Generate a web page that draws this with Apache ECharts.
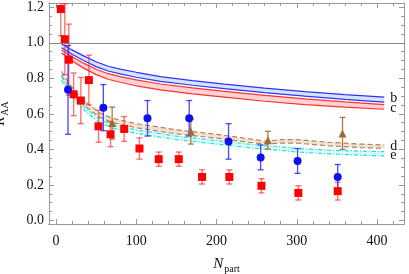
<!DOCTYPE html>
<html>
<head>
<meta charset="utf-8">
<script src="https://cdn.jsdelivr.net/npm/echarts@6/dist/echarts.min.js"></script>
<style>html,body{margin:0;padding:0;background:#fff}#c{width:409px;height:274px}</style>
</head>
<body>
<div id="c"></div>
<script>
// ---- data ----
const xMajorTicks = [0, 100, 200, 300, 400];
const xMinorTicks = [20, 40, 60, 80, 120, 140, 160, 180, 220, 240, 260, 280, 320, 340, 360, 380, 420];
const yMajorTicks = [0, 0.2, 0.4, 0.6, 0.8, 1.0, 1.2];
const yMinorTicks = [0.05, 0.1, 0.15, 0.25, 0.3, 0.35, 0.45, 0.5, 0.55, 0.65, 0.7, 0.75, 0.85, 0.9, 0.95, 1.05, 1.1, 1.15];

// red squares
const redN   = [6, 11, 16, 22, 31, 41, 53, 68, 85, 104, 128, 153, 182, 216, 256, 302, 351];
const redR   = [1.19, 1.02, 0.905, 0.71, 0.675, 0.79, 0.53, 0.485, 0.515, 0.405, 0.345, 0.345, 0.245, 0.245, 0.195, 0.155, 0.165];
const redErr = [0.15, 0.2, 0.2, 0.12, 0.13, 0.14, 0.09, 0.07, 0.07, 0.06, 0.04, 0.04, 0.04, 0.04, 0.04, 0.04, 0.05];
// blue circles
const blueN   = [15, 59, 114, 166, 215, 255, 301, 351];
const blueR   = [0.735, 0.635, 0.575, 0.575, 0.445, 0.355, 0.335, 0.245];
const blueErr = [0.25, 0.13, 0.10, 0.10, 0.10, 0.07, 0.07, 0.07];
// brown triangles
const brownN   = [70, 168, 264, 357];
const brownR   = [0.548, 0.50, 0.452, 0.49];
const brownErr = [0.09, 0.07, 0.05, 0.09];

// curves b, c
const curveBCN = [7, 20, 35, 50, 65, 80, 100, 130, 170, 210, 260, 310, 360, 409];
const bUpper = [0.993, 0.960, 0.925, 0.893, 0.868, 0.852, 0.834, 0.810, 0.787, 0.767, 0.745, 0.725, 0.708, 0.694];
const bLower = [0.972, 0.935, 0.899, 0.866, 0.841, 0.825, 0.806, 0.783, 0.761, 0.742, 0.720, 0.700, 0.682, 0.666];
const cUpper = [0.959, 0.921, 0.884, 0.851, 0.826, 0.810, 0.791, 0.768, 0.746, 0.727, 0.704, 0.684, 0.667, 0.652];
const cLower = [0.943, 0.898, 0.856, 0.821, 0.795, 0.778, 0.758, 0.735, 0.713, 0.694, 0.671, 0.652, 0.638, 0.626];
// curves d, e
const curveDEN = [7, 15, 25, 40, 55, 70, 100, 150, 200, 240, 262, 280, 300, 340, 380, 409];
const dUpper = [0.84, 0.78, 0.72, 0.655, 0.605, 0.575, 0.545, 0.51, 0.485, 0.46, 0.445, 0.455, 0.455, 0.44, 0.43, 0.425];
const dLower = [0.815, 0.755, 0.695, 0.63, 0.58, 0.552, 0.522, 0.487, 0.463, 0.44, 0.43, 0.435, 0.435, 0.42, 0.41, 0.406];
const eUpper = [0.81, 0.745, 0.685, 0.62, 0.57, 0.54, 0.51, 0.475, 0.45, 0.43, 0.42, 0.415, 0.405, 0.395, 0.39, 0.387];
const eLower = [0.79, 0.725, 0.665, 0.6, 0.55, 0.52, 0.49, 0.455, 0.43, 0.41, 0.4, 0.395, 0.385, 0.375, 0.368, 0.363];

// ---- chart ----
const FONT = '"Liberation Serif", "DejaVu Serif", serif';
const GRAY = '#999';
const chart = echarts.init(document.getElementById('c'), null, {renderer: 'canvas'});

function xAx(pos, ticks, len, labels) {
  return {
    type: 'value', position: pos, min: -8.7, max: 433.6,
    axisLine: {show: true, onZero: false, lineStyle: {color: GRAY, width: 1}},
    axisTick: {show: true, inside: true, length: len, customValues: ticks, lineStyle: {color: GRAY}},
    axisLabel: labels ? {show: true, customValues: ticks, margin: 10, color: '#111', fontFamily: FONT, fontSize: 14} : {show: false},
    splitLine: {show: false}
  };
}
function yAx(pos, ticks, len, labels) {
  return {
    type: 'value', position: pos, min: -0.02, max: 1.224,
    axisLine: {show: true, onZero: false, lineStyle: {color: GRAY, width: 1}},
    axisTick: {show: true, inside: true, length: len, customValues: ticks, lineStyle: {color: GRAY}},
    axisLabel: labels ? {show: true, customValues: ticks, margin: 5, color: '#111', fontFamily: FONT, fontSize: 14,
      formatter: v => v.toFixed(1)} : {show: false},
    splitLine: {show: false}
  };
}

const xAxes = [xAx('bottom', xMajorTicks, 5, true), xAx('bottom', xMinorTicks, 3, false),
               xAx('top', xMajorTicks, 5, false), xAx('top', xMinorTicks, 3, false)];
const yAxes = [yAx('left', yMajorTicks, 5, true), yAx('left', yMinorTicks, 3, false),
               yAx('right', yMajorTicks, 5, false), yAx('right', yMinorTicks, 3, false)];

const nameRich = {
  i: {fontStyle: 'italic', fontSize: 15, fontFamily: FONT, color: '#111', lineHeight: 20, verticalAlign: 'middle'},
  s: {fontSize: 10, fontFamily: FONT, color: '#111', lineHeight: 20, verticalAlign: 'bottom', padding: [0, 0, 0, 1]}
};
xAxes[0].name = '{i|N}{s|part}';
xAxes[0].nameLocation = 'middle';
xAxes[0].nameGap = 30;
xAxes[0].nameTextStyle = {color: '#111', fontFamily: FONT, rich: nameRich};
yAxes[0].name = '{i|R}{s|AA}';
yAxes[0].nameLocation = 'middle';
yAxes[0].nameRotate = 90;
yAxes[0].nameGap = 39;
yAxes[0].nameTextStyle = {color: '#111', fontFamily: FONT, rich: nameRich};

function band(N, lo, hi, color) {
  return {
    type: 'custom', xAxisIndex: 0, yAxisIndex: 0, silent: true, clip: true, z: 1,
    data: N.map((n, i) => [n, lo[i], hi[i]]),
    renderItem: function (params, api) {
      if (params.dataIndex !== 0) return null;
      const pts = [];
      for (let i = 0; i < N.length; i++) pts.push(api.coord([N[i], hi[i]]));
      for (let i = N.length - 1; i >= 0; i--) pts.push(api.coord([N[i], lo[i]]));
      return {type: 'polygon', shape: {points: pts}, style: {fill: color, stroke: null}};
    }
  };
}
function curve(N, vals, color, type, label, labelOffset) {
  const s = {
    type: 'line', xAxisIndex: 0, yAxisIndex: 0, silent: true, z: 2,
    data: N.map((n, i) => [n, vals[i]]),
    symbol: 'none', smooth: false,
    lineStyle: {color: color, width: 1.2, type: type}
  };
  if (label) {
    s.endLabel = {show: true, formatter: label, distance: 6, offset: labelOffset || [0, 0],
      color: '#111', fontFamily: FONT, fontSize: 14};
  }
  return s;
}
function errBars(N, R, E, color, width) {
  return {
    type: 'custom', xAxisIndex: 0, yAxisIndex: 0, silent: true, clip: true, z: 3,
    data: N.map((n, i) => [n, R[i], E[i]]),
    renderItem: function (params, api) {
      const x = api.value(0), y = api.value(1), e = api.value(2);
      const t = api.coord([x, y + e]), b = api.coord([x, y - e]);
      const st = {stroke: color, lineWidth: width};
      return {type: 'group', children: [
        {type: 'line', shape: {x1: t[0], y1: t[1], x2: b[0], y2: b[1]}, style: st},
        {type: 'line', shape: {x1: t[0] - 3, y1: t[1], x2: t[0] + 3, y2: t[1]}, style: st},
        {type: 'line', shape: {x1: b[0] - 3, y1: b[1], x2: b[0] + 3, y2: b[1]}, style: st}
      ]};
    }
  };
}
function marks(N, R, symbol, size, color) {
  return {
    type: 'scatter', xAxisIndex: 0, yAxisIndex: 0, silent: true, z: 4,
    data: N.map((n, i) => [n, R[i]]),
    symbol: symbol, symbolSize: size,
    itemStyle: {color: color, opacity: 1}
  };
}

const series = [
  band(curveBCN, bLower, bUpper, 'rgba(120,170,255,0.3)'),
  band(curveBCN, cLower, cUpper, 'rgba(255,110,110,0.3)'),
  band(curveDEN, dLower, dUpper, 'rgba(205,175,135,0.35)'),
  band(curveDEN, eLower, eUpper, 'rgba(150,240,240,0.35)'),
  curve(curveBCN, bUpper, '#3030ff', 'solid', 'b', [0, 1]),
  curve(curveBCN, bLower, '#3030ff', 'solid'),
  curve(curveBCN, cUpper, '#ff3030', 'solid'),
  curve(curveBCN, cLower, '#ff3030', 'solid', 'c', [0, -1]),
  curve(curveDEN, dUpper, '#b08555', [5, 3], 'd', [0, 1]),
  curve(curveDEN, dLower, '#b08555', [5, 3]),
  curve(curveDEN, eUpper, '#20e0e0', [4, 2, 1, 2]),
  curve(curveDEN, eLower, '#20e0e0', [4, 2, 1, 2], 'e', [0, -1]),
  errBars(redN, redR, redErr, 'rgba(255,40,40,0.65)', 1.4),
  errBars(blueN, blueR, blueErr, 'rgba(40,40,255,0.85)', 1.3),
  errBars(brownN, brownR, brownErr, 'rgba(160,110,60,0.9)', 1.3),
  marks(redN, redR, 'rect', 8, '#ff0000'),
  marks(blueN, blueR, 'circle', 8, '#1010ee'),
  marks(brownN, brownR, 'triangle', 8, '#a06a35'),
  {
    type: 'line', xAxisIndex: 0, yAxisIndex: 0, data: [], silent: true,
    markLine: {silent: true, symbol: 'none', label: {show: false},
      lineStyle: {color: '#888', width: 1, type: 'solid'},
      data: [{yAxis: 1.0}]}
  }
];

chart.setOption({
  animation: false,
  backgroundColor: '#fff',
  grid: {left: 49, right: 5, top: 3, bottom: 50, containLabel: false, outerBoundsMode: 'none'},
  xAxis: xAxes,
  yAxis: yAxes,
  series: series
});
</script>
</body>
</html>
